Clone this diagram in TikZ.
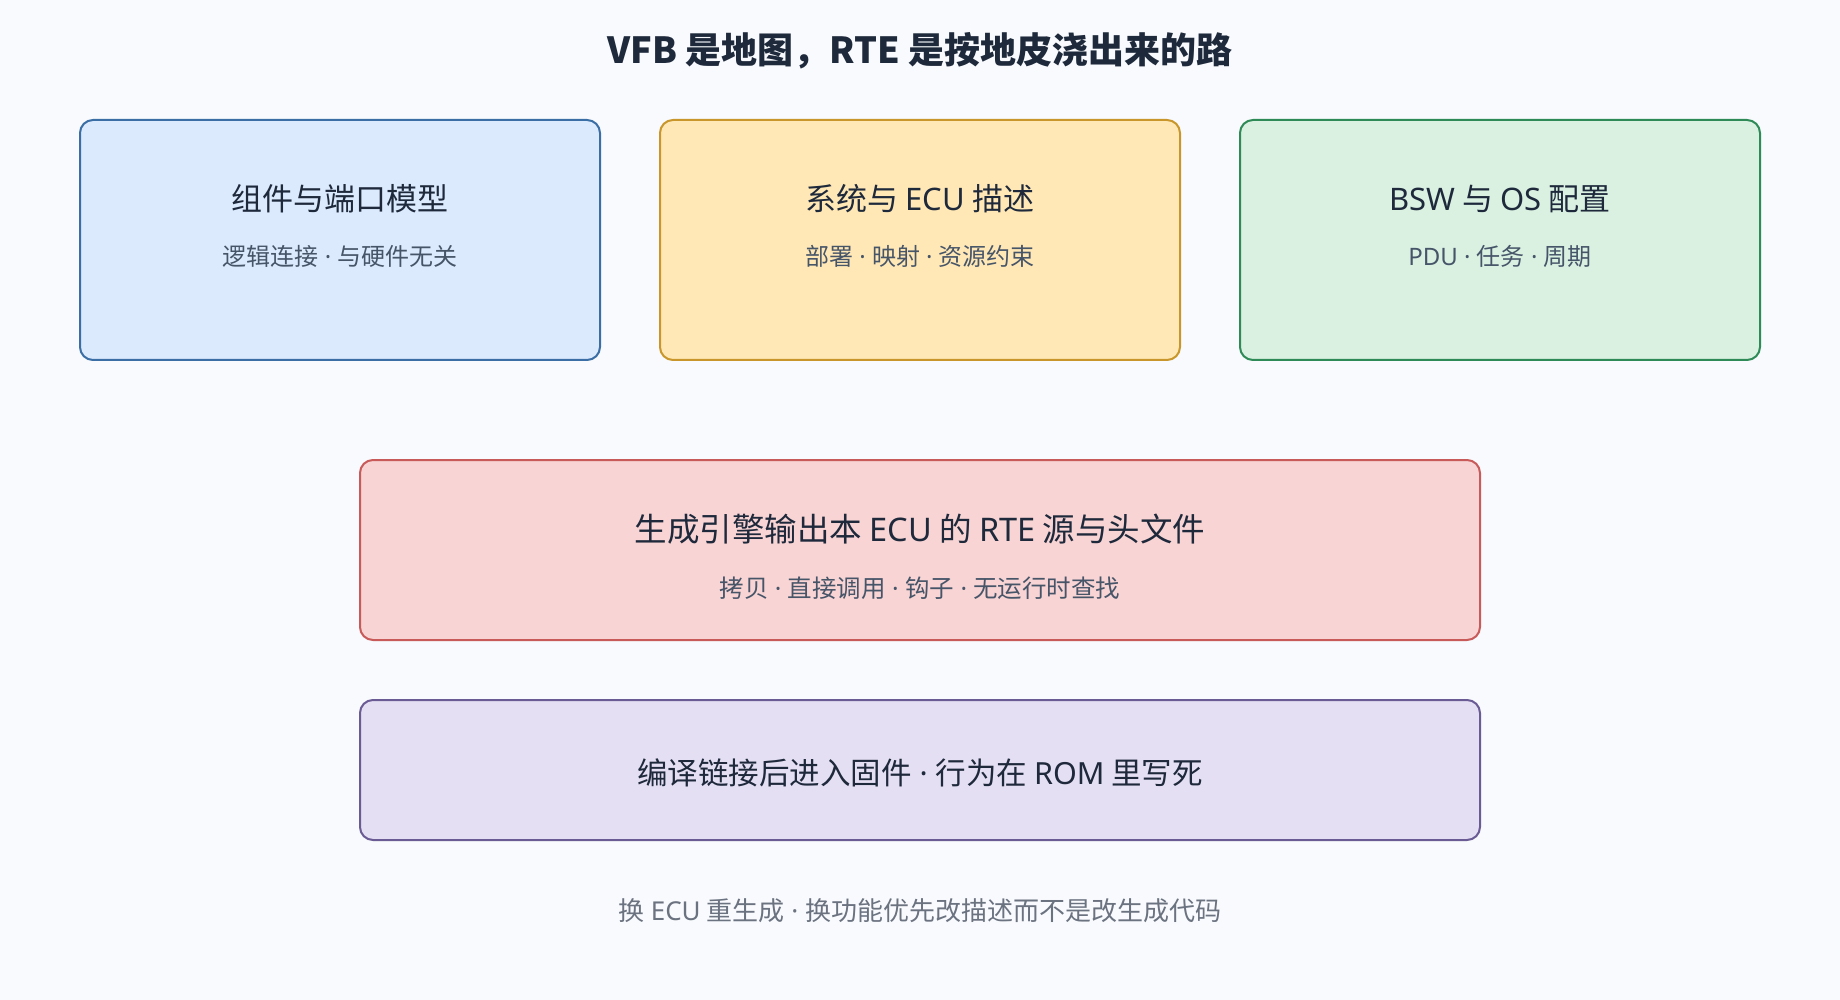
\documentclass[tikz,border=0pt]{standalone}
\usepackage{fontspec}
\setmainfont{Noto Sans CJK SC}
\newfontfamily\latf{Noto Sans}
\newcommand\lt[1]{{\latf #1}}
\newcommand\sep{\lt{ · }}
\definecolor{bg}{HTML}{F8FAFD}
\definecolor{ink}{HTML}{1E293B}
\definecolor{sub}{HTML}{475569}
\definecolor{foot}{HTML}{6B7280}
\definecolor{bluef}{HTML}{DCEAFE}\definecolor{blued}{HTML}{3A6EA5}
\definecolor{yelf}{HTML}{FFE8B6}\definecolor{yeld}{HTML}{C8962A}
\definecolor{grnf}{HTML}{DAF1E2}\definecolor{grnd}{HTML}{2E8B57}
\definecolor{redf}{HTML}{F8D4D4}\definecolor{redd}{HTML}{C85A5A}
\definecolor{purf}{HTML}{E5DFF3}\definecolor{purd}{HTML}{6B5B95}
\begin{document}
\begin{tikzpicture}[x=1pt,y=-1pt,
  card/.style={draw=#1, line width=2pt, rounded corners=13pt},
  ttl/.style={text=ink, font=\fontsize{31}{36}\selectfont, inner sep=0pt},
  stl/.style={text=sub, font=\fontsize{24}{28}\selectfont, inner sep=0pt}]
\fill[bg] (0,0) rectangle (1840,1000);
\useasboundingbox (0,0) rectangle (1840,1000);
\node[text=ink, font=\bfseries\fontsize{36}{42}\selectfont, inner sep=0pt] (head) at (920,51) {VFB 是地图，RTE 是按地皮浇出来的路};
% top row
\draw[card=blued, fill=bluef] (80,120) rectangle (600,360);
\node[ttl] (b1t) at (340,199) {组件与端口模型};
\node[stl] (b1s) at (340,256) {逻辑连接\sep 与硬件无关};
\draw[card=yeld, fill=yelf] (660,120) rectangle (1180,360);
\node[ttl] (b2t) at (920,199) {系统与 \lt{ECU} 描述};
\node[stl] (b2s) at (920,256) {部署\sep 映射\sep 资源约束};
\draw[card=grnd, fill=grnf] (1240,120) rectangle (1760,360);
\node[ttl] (b3t) at (1500,199) {\lt{BSW} 与 \lt{OS} 配置};
\node[stl] (b3s) at (1500,256) {\lt{PDU}\sep 任务\sep 周期};
% generator
\draw[card=redd, fill=redf] (360,460) rectangle (1480,640);
\node[ttl, font=\fontsize{32.5}{38}\selectfont] (gt) at (920,529) {生成引擎输出本 \lt{ECU} 的 \lt{RTE} 源与头文件};
\node[stl, font=\fontsize{24.5}{28}\selectfont] (gs) at (920,588) {拷贝\sep 直接调用\sep 钩子\sep 无运行时查找};
% firmware
\draw[card=purd, fill=purf] (360,700) rectangle (1480,840);
\node[ttl, font=\fontsize{30.5}{36}\selectfont] (ft) at (920,773) {编译链接后进入固件\sep 行为在 \lt{ROM} 里写死};
% footer
\node[text=foot, font=\fontsize{26}{30}\selectfont, inner sep=0pt] (note) at (920,911) {换 \lt{ECU} 重生成\sep 换功能优先改描述而不是改生成代码};
\end{tikzpicture}
\end{document}
